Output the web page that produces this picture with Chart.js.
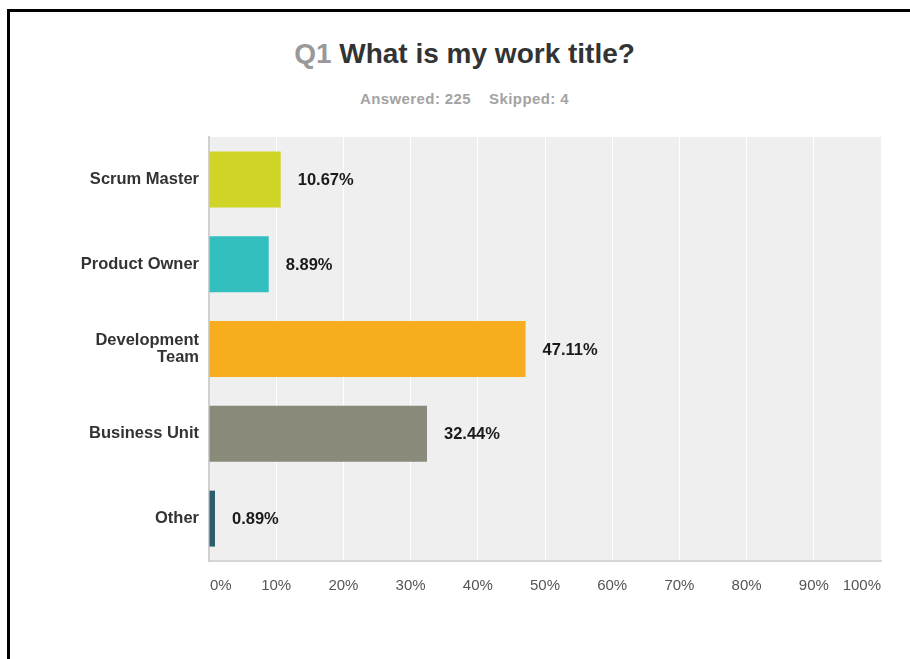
<!DOCTYPE html>
<html>
<head>
<meta charset="utf-8">
<script src="https://cdn.jsdelivr.net/npm/chart.js@4"></script>
<style>
  body { margin: 0; background: #fff; width: 910px; height: 659px; overflow: hidden; position: relative; }
  #frame { position: absolute; left: 7px; top: 9px; width: 1000px; height: 700px;
           border-top: 3px solid #000; border-left: 3px solid #000; }
  #title { position: absolute; left: 8px; width: 913px; top: 38px; text-align: center;
           font: bold 28px "Liberation Sans", Arial, sans-serif; color: #333; }
  #title .q { color: #999; }
  #sub { position: absolute; left: 8px; width: 913px; top: 90px; text-align: center;
         font: bold 15px "Liberation Sans", Arial, sans-serif; color: #a3a3a3; letter-spacing: 0.4px; }
  #sub span + span { margin-left: 18px; }
  #wrap { position: absolute; left: 0; top: 0; width: 910px; height: 659px; }
</style>
</head>
<body>
<div id="frame"></div>
<div id="title"><span class="q">Q1</span> What is my work title?</div>
<div id="sub"><span>Answered: 225</span><span>Skipped: 4</span></div>
<div id="wrap"><canvas id="chart"></canvas></div>
<script>
const answers = [["Scrum Master"], ["Product Owner"], ["Development", "Team"], ["Business Unit"], ["Other"]];
const percents = [10.67, 8.89, 47.11, 32.44, 0.89];
const barColors = ["#cfd427", "#33bfbf", "#f7ae1e", "#898a79", "#2b5f6e"];
const tickValues = [0, 10, 20, 30, 40, 50, 60, 70, 80, 90, 100];

// grey plot background behind the bars
const plotBackground = {
    id: "plotBackground",
    beforeDraw(chart) {
        const { ctx, chartArea: a } = chart;
        ctx.save();
        ctx.fillStyle = "#efefef";
        ctx.fillRect(a.left, a.top, a.right - a.left, a.bottom - a.top);
        ctx.restore();
    }
};

// percentage text at the end of each bar
const valueLabels = {
    id: "valueLabels",
    afterDatasetsDraw(chart) {
        const ctx = chart.ctx;
        const meta = chart.getDatasetMeta(0);
        ctx.save();
        ctx.font = "bold 16.5px 'Liberation Sans', Arial, sans-serif";
        ctx.fillStyle = "#1a1a1a";
        ctx.textBaseline = "middle";
        ctx.textAlign = "left";
        meta.data.forEach((bar, i) => {
            ctx.fillText(percents[i].toFixed(2) + "%", bar.x + 17, bar.y + 1);
        });
        ctx.restore();
    }
};

// x tick labels: first left aligned, last right aligned
const xLabels = {
    id: "xLabels",
    afterDraw(chart) {
        const ctx = chart.ctx;
        const x = chart.scales.x;
        ctx.save();
        ctx.font = "15px 'Liberation Sans', Arial, sans-serif";
        ctx.fillStyle = "#555";
        ctx.textBaseline = "middle";
        tickValues.forEach((v, i) => {
            ctx.textAlign = i === 0 ? "left" : (i === tickValues.length - 1 ? "right" : "center");
            ctx.fillText(v + "%", x.getPixelForValue(v) + (i === 0 ? 1 : 0), 586);
        });
        ctx.restore();
    }
};

new Chart(document.getElementById("chart"), {
    type: "bar",
    data: {
        labels: answers,
        datasets: [{
            data: percents,
            backgroundColor: barColors,
            borderWidth: 0,
            barPercentage: 0.66,
            categoryPercentage: 1
        }]
    },
    options: {
        indexAxis: "y",
        responsive: true,
        maintainAspectRatio: false,
        animation: false,
        layout: { padding: { top: 137, right: 29, left: 0, bottom: 0 } },
        plugins: {
            legend: { display: false },
            tooltip: { enabled: false }
        },
        scales: {
            x: {
                min: 0,
                max: 100,
                afterFit: (scale) => { scale.height = 98; },
                ticks: { display: false, stepSize: 10 },
                grid: { color: "#ffffff", lineWidth: 1, drawTicks: false },
                border: { color: "#d6d6d6", width: 2 }
            },
            y: {
                afterFit: (scale) => { scale.width = 209; },
                ticks: {
                    color: "#333",
                    padding: 10,
                    font: { family: "'Liberation Sans', Arial, sans-serif", size: 16.5, weight: "bold", lineHeight: 1.05 }
                },
                grid: { display: false, drawTicks: false },
                border: { color: "#d0d0d0", width: 2 }
            }
        }
    },
    plugins: [plotBackground, valueLabels, xLabels]
});
</script>
</body>
</html>
